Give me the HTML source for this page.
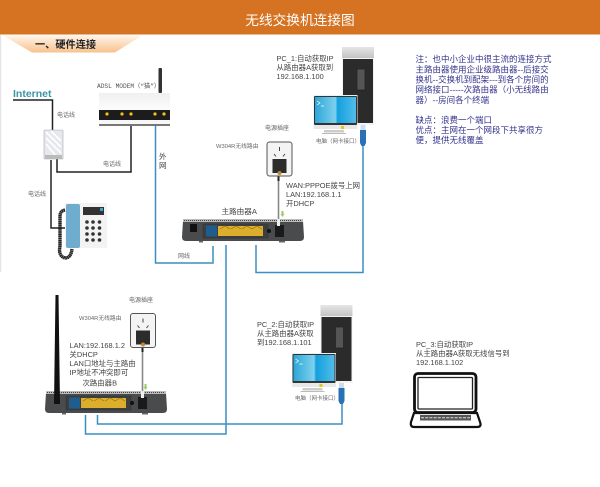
<!DOCTYPE html>
<html><head><meta charset="utf-8"><style>
html,body{margin:0;padding:0;background:#fff}
svg{display:block}
text{font-family:"Liberation Sans","Noto Sans CJK SC",sans-serif;fill:#444;font-size:7.400px}
.s{font-size:6px;fill:#666}
.n{font-size:8.500px;fill:#34348c}
.b{fill:none;stroke:#3a8fc2;stroke-width:1.500}
.k{fill:none;stroke:#222;stroke-width:1.500}
</style></head><body>
<svg width="600" height="487" viewBox="0 0 600 487" xmlns="http://www.w3.org/2000/svg" style="filter:blur(.25px)">
<defs>
<linearGradient id="tab" x1="0" y1="0" x2="0" y2="1"><stop offset="0" stop-color="#fff4ea"/><stop offset="1" stop-color="#f8c28c"/></linearGradient>
<linearGradient id="top" x1="0" y1="0" x2="0" y2="1"><stop offset="0" stop-color="#e6e6e6"/><stop offset="1" stop-color="#c4c4c4"/></linearGradient>
<linearGradient id="mod" x1="0" y1="0" x2="0" y2="1"><stop offset="0" stop-color="#f0f0f0"/><stop offset="1" stop-color="#fcfcfc"/></linearGradient>
<linearGradient id="scr" x1="0" y1="0" x2="1" y2="0"><stop offset="0" stop-color="#2ba7d8"/><stop offset=".5" stop-color="#7fd0ee"/><stop offset=".55" stop-color="#12a0de"/><stop offset="1" stop-color="#52bde8"/></linearGradient>
<g id="router">
<path d="M1 2H121L122 18Q122 22 118 22H4Q0 22 0 18Z" fill="#4a4b4d"/>
<rect x="1" y="0" width="120" height="3" fill="#bbb"/>
<path d="M2 1.500H120" stroke="#444" stroke-width="1" stroke-dasharray="1 1"/>
<rect x="21" y="5" width="65" height="14" fill="#3d3e40" stroke="#2e2e2e" stroke-width=".5"/>
<rect x="24" y="6.500" width="11" height="11" fill="#1f5d8f"/>
<rect x="36" y="7" width="45" height="10" fill="#dcae2b"/>
<path d="M38 10l5-3 5 3M49 10l5-3 5 3M60 10l5-3 5 3M70 10l5-3 5 3" stroke="#8a7216" fill="none" stroke-width=".7"/>
<circle cx="87" cy="12" r="2" fill="#111"/>
<rect x="93" y="6" width="9" height="12" fill="#1a1a1a"/>
<rect x="17" y="22" width="4" height="1.500" fill="#666"/>
<rect x="97" y="22" width="6" height="1.500" fill="#666"/>
</g>
<g id="pc">
<rect x="0" y="0" width="32" height="78" fill="#f2f2f2"/>
<rect x="0" y="0" width="32" height="11" fill="url(#top)"/>
<rect x="1" y="12" width="30" height="64" fill="#2b2b2b"/>
<rect x="15" y="22" width="8" height="21" fill="#555" stroke="#222" stroke-width=".7"/>
<rect x="-28.500" y="48" width="44" height="34" fill="#eee"/>
<rect x="-28" y="49" width="43" height="29" rx="1" fill="#333"/>
<rect x="-27" y="50" width="41" height="26" fill="url(#scr)"/>
<rect x="-28" y="78" width="43" height="4" fill="#e8e8e8"/>
<rect x="-1" y="79" width="3" height="3" fill="#e8c21f"/>
<rect x="-18" y="83" width="20" height="2.500" fill="#ccc"/>
<rect x="-20" y="86" width="24" height="1" fill="#bbb"/>
<path d="M-25 54l3 2-3 2M-21 59h3" stroke="#fff" stroke-width=".7" fill="none"/>
<rect x="18.500" y="78" width="5" height="5" fill="#cde"/>
<path d="M18 83h6v13l-1.500 3h-3l-1.500-3z" fill="#2a70b5"/>
</g>
<g id="socket">
<rect x="0" y="0" width="25" height="34" rx="2.500" fill="#f4f4f4" stroke="#555" stroke-width="1"/>
<path d="M12.500 5v4M7 12l2 2.500M18 12l-2 2.500" stroke="#444" stroke-width="1"/>
<path d="M5.500 17H19.500V31H5.500Z" fill="#2c2c2c"/>
<circle cx="12.500" cy="31" r="2" fill="#c08a30"/>
</g>
</defs>

<rect width="600" height="34.500" fill="#d67322"/>
<text x="300" y="25" text-anchor="middle" style="font-size:13.700px;fill:#fff">无线交换机连接图</text>
<path d="M3 35.500H142L115 52.500H32Z" fill="url(#tab)"/>
<text x="35" y="48" style="font-size:10.200px;font-weight:bold;fill:#222">一、硬件连接</text>
<rect x="0" y="35" width="1.200" height="237" fill="#e4e4e4"/>

<!-- left wiring -->
<text x="13" y="97" style="font-size:10.500px;font-weight:bold;fill:#3b94a8">Internet</text>
<path d="M13 100H52.500V130" class="k"/>
<path d="M51 160V228H66" class="k"/>
<path d="M57 159V172H131V126" class="k"/>
<rect x="44" y="130" width="19" height="29" rx="1" fill="#e6e8ee" stroke="#aaa" stroke-width=".6"/>
<path d="M46 132l15 15M46 138l15 15M51 131l10 10M46 144l10 12" stroke="#fff" stroke-width="1.600"/>
<rect x="45" y="155" width="17" height="4" fill="#bbb"/>
<text class="s" x="57" y="117">电话线</text>
<text class="s" x="103" y="166">电话线</text>
<text class="s" x="28" y="196">电话线</text>

<!-- modem -->
<rect x="158.500" y="68" width="3.500" height="25" rx="1" fill="#333"/>
<rect x="99" y="93" width="71" height="33" fill="#f7f7f7"/>
<rect x="99" y="93" width="71" height="17" fill="url(#mod)"/>
<rect x="99" y="110" width="71" height="10" fill="#1c1c1c"/>
<rect x="99" y="124" width="71" height="2" fill="#777"/>
<g fill="#f0c419"><circle cx="107" cy="114" r="1.600"/><circle cx="122" cy="114" r="1.600"/><circle cx="131" cy="114" r="1.600"/><circle cx="155" cy="114" r="1.600"/><circle cx="164" cy="114" r="1.600"/></g>
<text x="97" y="88" style="font-size:6.200px;fill:#555;font-family:'Liberation Mono','Noto Sans CJK SC',monospace">ADSL MODEM（“猫”）</text>

<!-- phone -->
<path d="M65 203H106Q107 203 107 205V248H80L65 247Z" fill="#f3f3f3"/>
<rect x="66" y="204" width="14" height="44" rx="2" fill="#6faccd"/>
<rect x="83" y="207" width="21" height="8" fill="#333"/>
<rect x="100" y="208" width="3" height="3" fill="#3ba3d0"/>
<g fill="#333">
<circle cx="87" cy="222" r="1.800"/><circle cx="93" cy="222" r="1.800"/><circle cx="99.500" cy="222" r="1.800"/>
<circle cx="87" cy="228" r="1.800"/><circle cx="93" cy="228" r="1.800"/><circle cx="99.500" cy="228" r="1.800"/>
<circle cx="87" cy="234" r="1.800"/><circle cx="93" cy="234" r="1.800"/><circle cx="99.500" cy="234" r="1.800"/>
<circle cx="87" cy="240" r="1.800"/><circle cx="93" cy="240" r="1.800"/><circle cx="99.500" cy="240" r="1.800"/>
</g>
<path d="M65 210Q60 211 60 216V246Q58 256 65 258Q71 258 72 249" fill="none" stroke="#222" stroke-width="3.400" stroke-dasharray="1.600 .3"/>

<!-- blue wires -->
<path d="M155.500 126V263H213V246" class="b"/>
<path d="M226 245V434H85.500V415" class="b"/>
<path d="M256 245V272.500H363V142" class="b"/>
<path d="M97.500 415V424H342V400" class="b"/>
<text x="159" y="159" style="font-size:7.500px;fill:#444">外</text>
<text x="159" y="168" style="font-size:7.500px;fill:#444">网</text>
<text class="s" x="178" y="258">网线</text>

<!-- router A -->
<path d="M278.500 176V221" stroke="#888" stroke-width="1.600"/>
<path d="M278.500 176V181" stroke="#222" stroke-width="2"/>
<use href="#socket" x="267" y="142"/>
<text class="s" x="265" y="130">电源插座</text>
<text class="s" x="216" y="148" style="font-size:5.800px">W304R无线路由</text>
<use href="#router" x="182" y="219"/>
<rect x="190" y="224" width="7" height="8" fill="#111"/>
<path d="M281.500 211h2v3h1l-2 3-2-3h1z" fill="#9c6"/>
<rect x="277" y="219" width="3" height="7" fill="#eee"/>
<text x="221.500" y="214" style="font-size:7.600px">主路由器A</text>
<text x="286" y="188">WAN:PPPOE拨号上网</text>
<text x="286" y="197">LAN:192.168.1.1</text>
<text x="286" y="206">开DHCP</text>

<!-- PC1 -->
<use href="#pc" x="342" y="47"/>
<text x="276.500" y="61">PC_1:自动获取IP</text>
<text x="276.500" y="70">从路由器A获取到</text>
<text x="276.500" y="79">192.168.1.100</text>
<text class="s" x="316" y="143" style="font-size:5.500px">电脑（网卡接口）</text>

<!-- router B -->
<path d="M142.500 347V395" stroke="#888" stroke-width="1.600"/>
<path d="M142.500 347V352" stroke="#222" stroke-width="2"/>
<use href="#socket" x="130.500" y="313.500"/>
<text class="s" x="129" y="302">电源插座</text>
<text class="s" x="79" y="320" style="font-size:5.800px">W304R无线路由</text>
<use href="#router" x="45" y="391"/>
<path d="M55.500 295H58.500L60 404H54Z" fill="#111"/>
<path d="M144.500 384h2v3h1l-2 3-2-3h1z" fill="#9c6"/>
<rect x="141" y="391" width="3" height="7" fill="#eee"/>
<text x="69.500" y="348">LAN:192.168.1.2</text>
<text x="69.500" y="357">关DHCP</text>
<text x="69.500" y="366">LAN口地址与主路由</text>
<text x="69.500" y="375">IP地址不冲突即可</text>
<text x="82.500" y="385.500">次路由器B</text>

<!-- PC2 -->
<use href="#pc" x="320.500" y="305"/>
<text x="257" y="327">PC_2:自动获取IP</text>
<text x="257" y="336">从主路由器A获取</text>
<text x="257" y="345">到192.168.1.101</text>
<text class="s" x="295" y="400" style="font-size:5.500px">电脑（网卡接口）</text>

<!-- PC3 -->
<text x="416" y="347">PC_3:自动获取IP</text>
<text x="416" y="356">从主路由器A获取无线信号到</text>
<text x="416" y="365">192.168.1.102</text>
<rect x="414.500" y="373.500" width="61.500" height="39" rx="3.500" fill="#fff" stroke="#111" stroke-width="2.800"/>
<rect x="418" y="377.500" width="54.500" height="31.500" rx="1" fill="#fff" stroke="#222" stroke-width="1.300"/>
<path d="M414 413L411 422Q410 427 414 427H477Q482 427 480 422L477 413Z" fill="#fff" stroke="#111" stroke-width="2.200"/>
<rect x="420" y="415" width="51" height="5.500" fill="#555"/>
<path d="M421 417.700H470" stroke="#ddd" stroke-width="1" stroke-dasharray="3 1.200"/>

<!-- note -->
<text class="n" x="415.500" y="62">注：也中小企业中很主流的连接方式</text>
<text class="n" x="415.500" y="72.300">主路由器使用企业级路由器--后接交</text>
<text class="n" x="415.500" y="82.500">换机--交换机到配架---到各个房间的</text>
<text class="n" x="415.500" y="92.700">网络接口-----次路由器（小无线路由</text>
<text class="n" x="415.500" y="103">器）--房间各个终端</text>
<text class="n" x="415.500" y="123">缺点：浪费一个端口</text>
<text class="n" x="415.500" y="133">优点：主网在一个网段下共享很方</text>
<text class="n" x="415.500" y="143">便，提供无线覆盖</text>
</svg>
</body></html>
